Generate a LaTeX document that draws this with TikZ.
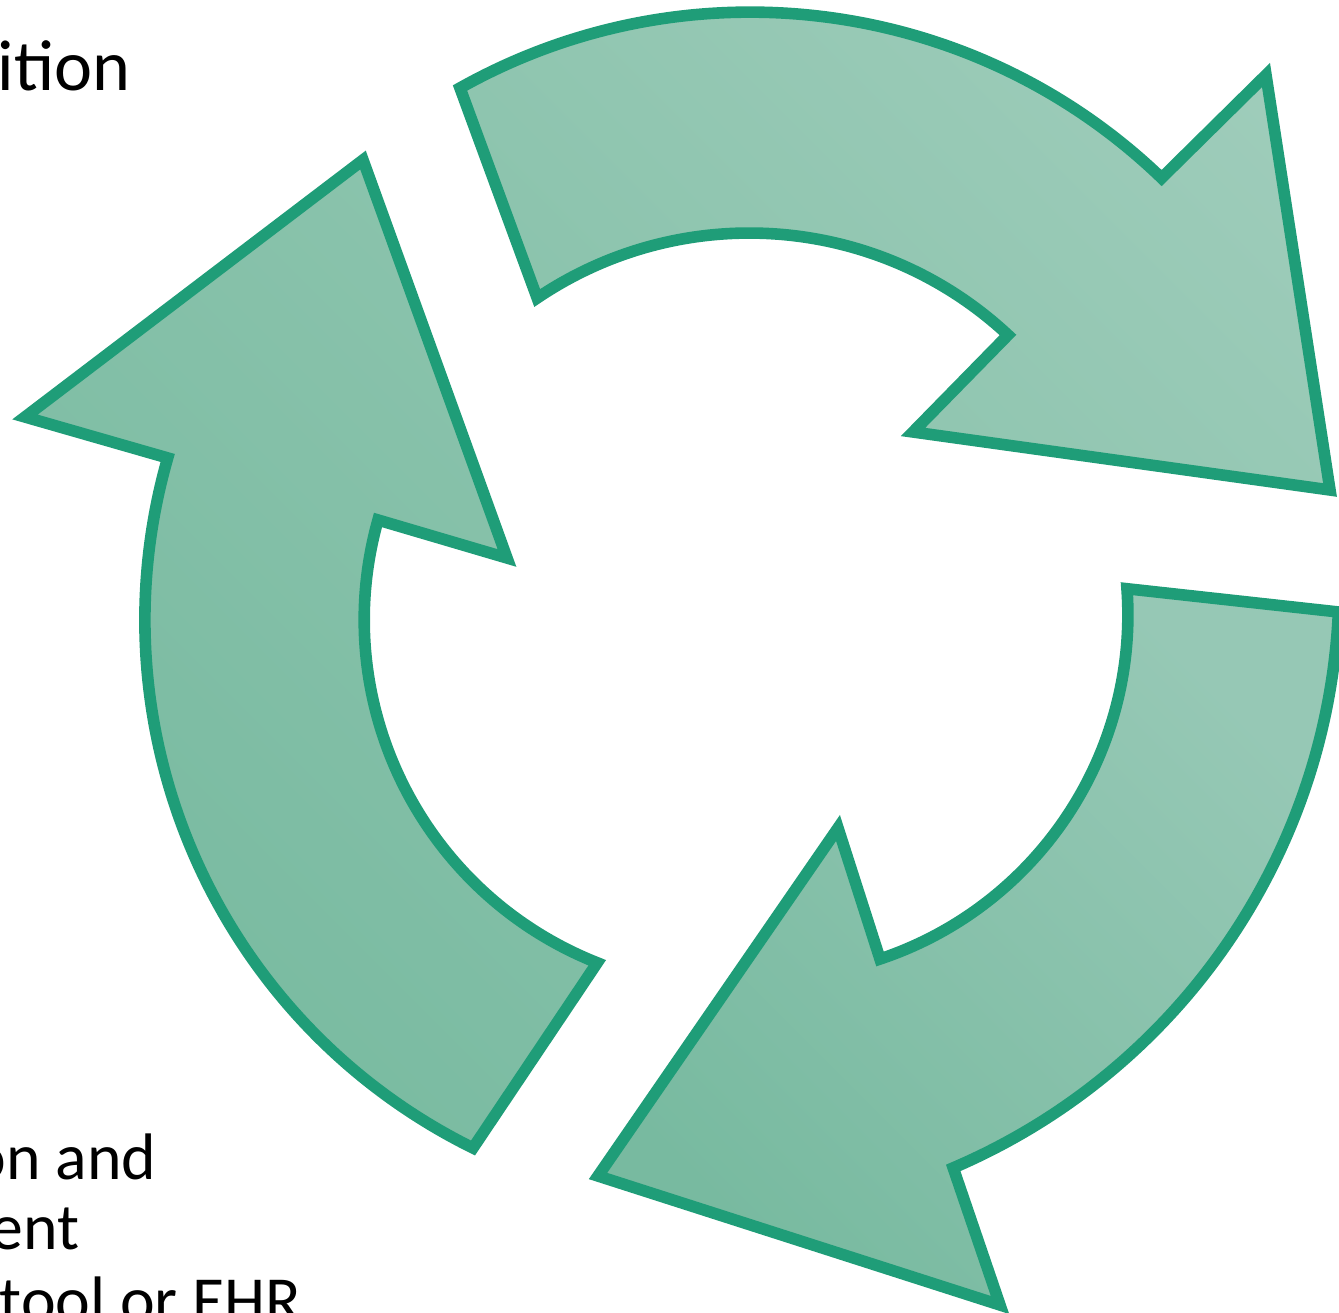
\documentclass[tikz,border=0pt]{standalone}
\usepackage{fontspec}
\setmainfont{Carlito}
\definecolor{cycleline}{RGB}{31,157,120}
\definecolor{cyclelight}{RGB}{158,204,186}
\definecolor{cyclemid}{RGB}{138,195,172}
\definecolor{cyclesoft}{RGB}{150,200,181}
\definecolor{cycledark}{RGB}{120,186,160}

\begin{document}
\begin{tikzpicture}[
    x=0.01cm, y=-0.01cm,
    cyclearrow/.style={draw=cycleline, line width=3.3pt, line join=miter, miter limit=10},
    notetext/.style={anchor=base west, inner sep=0pt, font=\fontsize{18.7}{22}\selectfont}
    ]
    \useasboundingbox (0,0) rectangle (1339,1313);
    \clip (0,0) rectangle (1339,1313);
    \draw[cyclearrow, top color=cyclelight, bottom color=cyclemid, shading angle=-45]
      (460,88) arc[start angle=-119.3, end angle=-46.07, radius=593]
      -- (1266,75) -- (1330,490) -- (913,432) -- (1008,335)
      arc[start angle=-46.97, end angle=-124.05, radius=379] -- cycle;
    \draw[cyclearrow, top color=cyclesoft, bottom color=cycledark, shading angle=-45]
      (880,959) arc[start angle=71.51, end angle=-4.11, radius=363]
      -- (1338.4,612) arc[start angle=2.6, end angle=66.84, radius=636]
      -- (1000,1305) -- (598,1176) -- (838,828) -- cycle;
    \draw[cyclearrow, top color=cyclemid, bottom color=cycledark, shading angle=-45]
      (473,1148) arc[start angle=116.3, end angle=195.97, radius=589]
      -- (25,417) -- (363,160) -- (507,558) -- (378,520)
      arc[start angle=195.69, end angle=111.63, radius=369] -- cycle;
    \node[notetext, font=\fontsize{20.5}{24}\selectfont] (headA) at (48,-12) {g};
    \node[notetext, font=\fontsize{20.5}{24}\selectfont] (headB) at (-3,91) {ition};
    \node[notetext] (noteA) at (-29,1179) {on and};
    \node[notetext] (noteB) at (-10,1249) {ent};
    \node[notetext] (noteC) at (-1,1322) {tool or EHR};
\end{tikzpicture}
\end{document}
